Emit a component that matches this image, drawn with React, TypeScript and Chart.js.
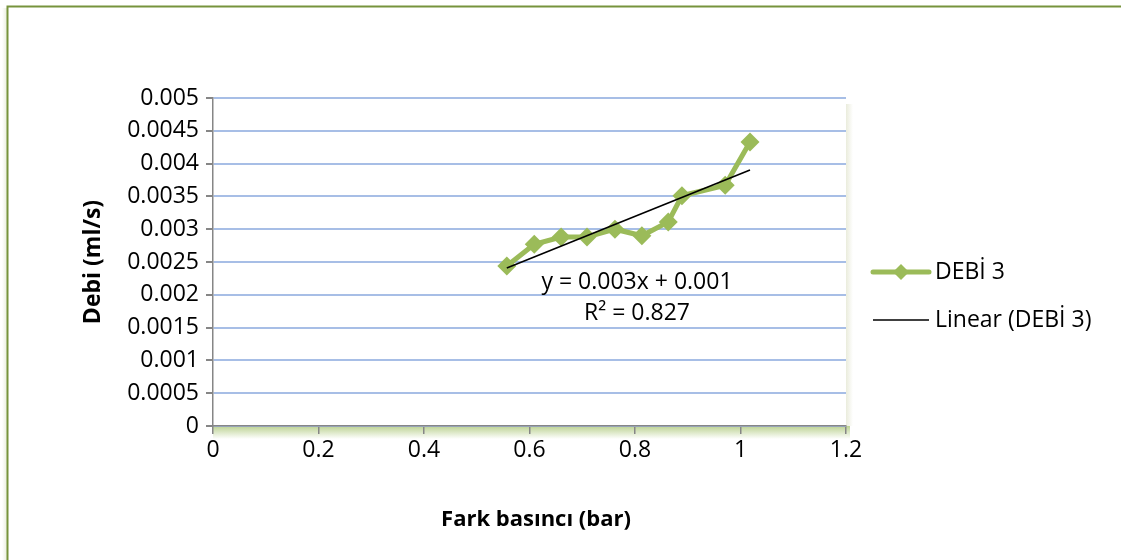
import React, { useEffect, useRef } from 'react';
import { Chart, registerables } from 'chart.js';

Chart.register(...registerables);

// ---- data ----
const seriesName = 'DEBİ 3';
const trendName = 'Linear (DEBİ 3)';
const pressure = [0.557, 0.609, 0.66, 0.709, 0.762, 0.813, 0.863, 0.889, 0.971, 1.018];
const flow = [0.00244, 0.00277, 0.00288, 0.00288, 0.003, 0.0029, 0.00311, 0.00351, 0.00367, 0.00433];
const xTickValues = [0, 0.2, 0.4, 0.6, 0.8, 1, 1.2];
const xTickLabels = ['0', '0.2', '0.4', '0.6', '0.8', '1', '1.2'];
const yTickValues = [0, 0.0005, 0.001, 0.0015, 0.002, 0.0025, 0.003, 0.0035, 0.004, 0.0045, 0.005];
const yTickLabels = ['0', '0.0005', '0.001', '0.0015', '0.002', '0.0025', '0.003', '0.0035', '0.004', '0.0045', '0.005'];
const xTitle = 'Fark basıncı (bar)';
const yTitle = 'Debi (ml/s)';
const equationText = 'y = 0.003x + 0.001';
const r2Text = 'R² = 0.827';

const FONT = '"Open Sans", "DejaVu Sans", sans-serif';
const GREEN = '#9BBB59';
const FRAME = '#77933C';
const AXIS = '#868686';
const GRID = '#A7BEE6';

function linearFit(xs: number[], ys: number[]) {
  const n = xs.length;
  const mx = xs.reduce((a, b) => a + b, 0) / n;
  const my = ys.reduce((a, b) => a + b, 0) / n;
  let sxy = 0;
  let sxx = 0;
  for (let i = 0; i < n; i++) {
    sxy += (xs[i] - mx) * (ys[i] - my);
    sxx += (xs[i] - mx) * (xs[i] - mx);
  }
  const slope = sxy / sxx;
  return { slope, intercept: my - slope * mx };
}

const fit = linearFit(pressure, flow);
const xMin = Math.min(...pressure);
const xMax = Math.max(...pressure);
const trendPoints = [xMin, xMax].map((x) => ({ x, y: fit.intercept + fit.slope * x }));
const seriesPoints = pressure.map((x, i) => ({ x, y: flow[i] }));

const decorPlugin = {
  id: 'decor',
  beforeDraw(chart: any) {
    const { ctx, chartArea: a, width, height } = chart;
    ctx.save();
    ctx.fillStyle = '#ffffff';
    ctx.fillRect(0, 0, width, height);
    // outer frame (left and top visible)
    const sh = ctx.createLinearGradient(2, 0, 7, 0);
    sh.addColorStop(0, 'rgba(200,210,170,0)');
    sh.addColorStop(1, 'rgba(200,210,170,0.4)');
    ctx.fillStyle = sh;
    ctx.fillRect(2, 8, 5, height);
    ctx.strokeStyle = FRAME;
    ctx.lineWidth = 2;
    ctx.beginPath();
    ctx.moveTo(7.5, height + 2);
    ctx.lineTo(7.5, 6.5);
    ctx.lineTo(width + 2, 6.5);
    ctx.stroke();
    // plot area shadows
    const gb = ctx.createLinearGradient(0, a.bottom, 0, a.bottom + 13);
    gb.addColorStop(0, 'rgba(165,195,110,0.75)');
    gb.addColorStop(1, 'rgba(165,195,110,0)');
    ctx.fillStyle = gb;
    ctx.fillRect(a.left, a.bottom, a.right - a.left + 4, 13);
    const gr = ctx.createLinearGradient(a.right, 0, a.right + 7, 0);
    gr.addColorStop(0, 'rgba(225,228,205,0.7)');
    gr.addColorStop(1, 'rgba(225,228,205,0)');
    ctx.fillStyle = gr;
    ctx.fillRect(a.right, a.top + 6, 7, a.bottom - a.top - 6);
    ctx.restore();
  },
  afterDraw(chart: any) {
    const { ctx, chartArea: a } = chart;
    ctx.save();
    ctx.fillStyle = '#000';
    ctx.textBaseline = 'middle';
    // axis titles
    ctx.font = `bold 22px ${FONT}`;
    ctx.textAlign = 'center';
    ctx.fillText(xTitle, 536, 520);
    ctx.save();
    ctx.font = `bold 23px ${FONT}`;
    ctx.translate(93, (a.top + a.bottom) / 2);
    ctx.rotate(-Math.PI / 2);
    ctx.fillText(yTitle, 0, 0);
    ctx.restore();
    // trendline label
    ctx.font = `23px ${FONT}`;
    ctx.fillText(equationText, 637, 282);
    ctx.fillText(r2Text, 637, 313);
    // legend
    const lx0 = 873;
    const lx1 = 929;
    const ly1 = 272;
    const ly2 = 320;
    ctx.strokeStyle = GREEN;
    ctx.lineWidth = 5;
    ctx.lineCap = 'round';
    ctx.beginPath();
    ctx.moveTo(lx0, ly1);
    ctx.lineTo(lx1, ly1);
    ctx.stroke();
    ctx.fillStyle = GREEN;
    const cx = (lx0 + lx1) / 2;
    const r = 8;
    ctx.beginPath();
    ctx.moveTo(cx, ly1 - r);
    ctx.lineTo(cx + r, ly1);
    ctx.lineTo(cx, ly1 + r);
    ctx.lineTo(cx - r, ly1);
    ctx.closePath();
    ctx.fill();
    ctx.strokeStyle = '#000';
    ctx.lineWidth = 1.5;
    ctx.lineCap = 'butt';
    ctx.beginPath();
    ctx.moveTo(lx0, ly2);
    ctx.lineTo(lx1, ly2);
    ctx.stroke();
    ctx.fillStyle = '#000';
    ctx.textAlign = 'left';
    ctx.fillText(seriesName, 935, ly1);
    ctx.fillText(trendName, 935, ly2);
    ctx.restore();
  },
};

export default function App() {
  const ref = useRef<HTMLCanvasElement | null>(null);

  useEffect(() => {
    document.body.style.margin = '0';
    const canvas = ref.current;
    if (!canvas) return;
    const chart = new Chart(canvas, {
      type: 'scatter',
      data: {
        datasets: [
          {
            label: trendName,
            data: trendPoints,
            showLine: true,
            borderColor: '#000',
            borderWidth: 1.6,
            pointRadius: 0,
            order: 0,
          },
          {
            label: seriesName,
            data: seriesPoints,
            showLine: true,
            borderColor: GREEN,
            backgroundColor: GREEN,
            borderWidth: 5,
            pointStyle: 'rectRot',
            pointRadius: 9.5,
            pointBorderWidth: 0,
            pointBackgroundColor: GREEN,
            tension: 0,
            order: 1,
          },
        ],
      },
      options: {
        animation: false,
        responsive: false,
        devicePixelRatio: 1,
        layout: { padding: { left: 0, top: 98, right: 275, bottom: 0 } },
        plugins: {
          legend: { display: false },
          tooltip: { enabled: false },
          title: { display: false },
        },
        scales: {
          x: {
            type: 'linear',
            min: 0,
            max: 1.2,
            afterBuildTicks: (s: any) => {
              s.ticks = xTickValues.map((v) => ({ value: v }));
            },
            afterFit: (s: any) => {
              s.height = 134;
            },
            ticks: {
              callback: (_v: any, i: number) => xTickLabels[i],
              font: { family: FONT, size: 23 },
              color: '#000',
              padding: 3,
              maxRotation: 0,
              autoSkip: false,
            },
            grid: { drawOnChartArea: false, tickLength: 8, tickColor: AXIS, lineWidth: 1.5 },
            border: { color: AXIS, width: 1.5 },
          },
          y: {
            type: 'linear',
            min: 0,
            max: 0.005,
            afterBuildTicks: (s: any) => {
              s.ticks = yTickValues.map((v) => ({ value: v }));
            },
            afterFit: (s: any) => {
              s.width = 213;
            },
            ticks: {
              callback: (_v: any, i: number) => yTickLabels[i],
              font: { family: FONT, size: 23 },
              color: '#000',
              padding: 7,
              autoSkip: false,
            },
            grid: { color: GRID, lineWidth: 2, tickLength: 7, tickColor: AXIS },
            border: { color: AXIS, width: 1.5 },
          },
        },
      },
      plugins: [decorPlugin],
    });
    return () => chart.destroy();
  }, []);

  return (
    <div style={{ width: 1121, height: 560 }}>
      <canvas ref={ref} width={1121} height={560} style={{ display: 'block' }} />
    </div>
  );
}
